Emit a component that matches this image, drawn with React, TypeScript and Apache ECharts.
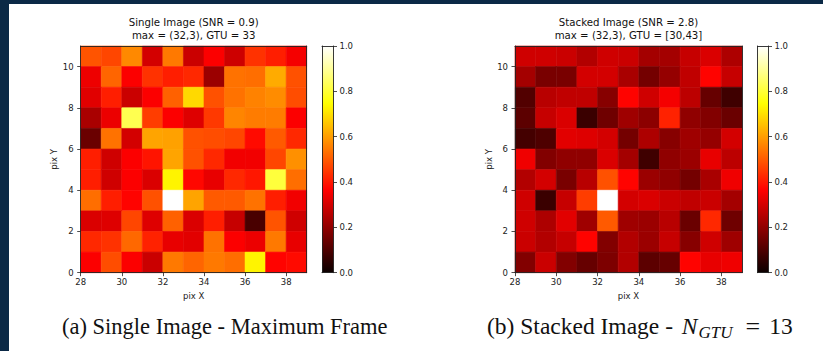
import React, { useEffect, useRef } from "react";
import * as echarts from "echarts";

// ---- data ----
const X_MIN = 28;
const X_MAX = 39;
const Y_MIN = 0;
const Y_MAX = 11;
const X_TICKS = [28, 30, 32, 34, 36, 38];
const Y_TICKS = [0, 2, 4, 6, 8, 10];
const CBAR_RANGE = [0, 1];

// rows listed from top (y = 10) to bottom (y = 0), columns x = 28..38
const SINGLE_ROWS = [
  [0.49, 0.47, 0.57, 0.3, 0.545, 0.286, 0.36, 0.29, 0.44, 0.41, 0.35],
  [0.34, 0.515, 0.36, 0.44, 0.41, 0.425, 0.215, 0.535, 0.53, 0.62, 0.485],
  [0.32, 0.41, 0.286, 0.36, 0.51, 0.69, 0.485, 0.535, 0.56, 0.575, 0.48],
  [0.236, 0.336, 0.826, 0.455, 0.36, 0.315, 0.45, 0.565, 0.55, 0.55, 0.36],
  [0.143, 0.535, 0.3, 0.61, 0.605, 0.485, 0.48, 0.47, 0.38, 0.5, 0.425],
  [0.41, 0.293, 0.36, 0.395, 0.61, 0.485, 0.425, 0.345, 0.345, 0.47, 0.58],
  [0.41, 0.293, 0.36, 0.31, 0.73, 0.375, 0.33, 0.425, 0.4, 0.806, 0.53],
  [0.53, 0.41, 0.37, 0.485, 1.0, 0.61, 0.5, 0.5, 0.535, 0.41, 0.345],
  [0.31, 0.315, 0.47, 0.315, 0.51, 0.31, 0.41, 0.28, 0.093, 0.49, 0.293],
  [0.425, 0.44, 0.52, 0.415, 0.33, 0.322, 0.535, 0.36, 0.336, 0.545, 0.33],
  [0.36, 0.48, 0.36, 0.286, 0.545, 0.515, 0.545, 0.53, 0.73, 0.37, 0.38],
];

const STACKED_ROWS = [
  [0.293, 0.293, 0.286, 0.25, 0.293, 0.286, 0.229, 0.229, 0.28, 0.31, 0.243],
  [0.229, 0.165, 0.165, 0.3, 0.3, 0.236, 0.157, 0.207, 0.272, 0.37, 0.28],
  [0.107, 0.258, 0.272, 0.272, 0.186, 0.37, 0.293, 0.35, 0.265, 0.136, 0.079],
  [0.122, 0.28, 0.31, 0.072, 0.15, 0.222, 0.193, 0.415, 0.2, 0.179, 0.143],
  [0.086, 0.1, 0.322, 0.315, 0.3, 0.157, 0.243, 0.186, 0.222, 0.207, 0.3],
  [0.343, 0.179, 0.2, 0.2, 0.31, 0.229, 0.079, 0.2, 0.215, 0.33, 0.265],
  [0.25, 0.3, 0.165, 0.258, 0.485, 0.37, 0.215, 0.2, 0.157, 0.236, 0.343],
  [0.293, 0.072, 0.28, 0.455, 1.0, 0.3, 0.31, 0.286, 0.272, 0.286, 0.229],
  [0.293, 0.243, 0.322, 0.222, 0.5, 0.222, 0.215, 0.258, 0.143, 0.425, 0.15],
  [0.286, 0.25, 0.28, 0.37, 0.179, 0.25, 0.215, 0.28, 0.186, 0.293, 0.222],
  [0.179, 0.286, 0.179, 0.136, 0.172, 0.25, 0.122, 0.136, 0.37, 0.33, 0.343],
];

const TITLE_A = "Single Image (SNR = 0.9)\nmax = (32,3), GTU = 33";
const TITLE_B = "Stacked Image (SNR = 2.8)\nmax = (32,3), GTU = [30,43]";

// ---- helpers ----
const clamp = (v: number) => Math.max(0, Math.min(1, v));
function hot(v: number): string {
  const r = clamp(0.0416 + (v / 0.365079) * (1 - 0.0416));
  const g = clamp((v - 0.365079) / (0.746032 - 0.365079));
  const b = clamp((v - 0.746032) / (1 - 0.746032));
  const h = (c: number) => Math.round(c * 255);
  return `rgb(${h(r)},${h(g)},${h(b)})`;
}
const HOT_COLORS: string[] = [];
for (let i = 0; i <= 100; i++) HOT_COLORS.push(hot(i / 100));
const HOT_STOPS = HOT_COLORS.map((c, i) => ({ offset: i / 100, color: c }));

function toData(rows: number[][]) {
  const out: number[][] = [];
  rows.forEach((row, ri) => {
    row.forEach((v, ci) => {
      out.push([X_MIN + ci, Y_MAX - 1 - ri, v]);
    });
  });
  return out;
}

const AX = "#222";
const FONT = "DejaVu Sans";
const SERIF = "Liberation Serif";

const cellRender = (params: any, api: any) => {
  const x = api.value(0);
  const y = api.value(1);
  const p0 = api.coord([x, y + 1]);
  const p1 = api.coord([x + 1, y]);
  const c = api.visual("color");
  return {
    type: "rect",
    shape: { x: p0[0], y: p0[1], width: p1[0] - p0[0], height: p1[1] - p0[1] },
    style: { fill: c, stroke: c, lineWidth: 0.6 },
  };
};

const cbarRender = (params: any, api: any) => {
  const p0 = api.coord([0, api.value(1)]);
  const p1 = api.coord([1, api.value(0)]);
  return {
    type: "rect",
    shape: { x: p0[0], y: p0[1], width: p1[0] - p0[0], height: p1[1] - p0[1] },
    style: { fill: new echarts.graphic.LinearGradient(0, 1, 0, 0, HOT_STOPS) },
  };
};

function mainX(gridIndex: number) {
  return {
    type: "value",
    gridIndex,
    min: X_MIN,
    max: X_MAX,
    z: 10,
    name: "pix X",
    nameLocation: "middle",
    nameGap: 16,
    nameTextStyle: { fontSize: 8.5, color: AX, fontFamily: FONT },
    axisLine: { show: true, onZero: false, lineStyle: { color: AX, width: 0.9 } },
    axisTick: { show: true, length: 3.5, customValues: X_TICKS, lineStyle: { color: AX, width: 0.8 } },
    axisLabel: { customValues: X_TICKS, fontSize: 8.5, color: AX, fontFamily: FONT, margin: 5 },
    splitLine: { show: false },
  };
}
function mainY(gridIndex: number) {
  return {
    type: "value",
    gridIndex,
    min: Y_MIN,
    max: Y_MAX,
    z: 10,
    name: "pix Y",
    nameLocation: "middle",
    nameGap: 21,
    nameTextStyle: { fontSize: 8.5, color: AX, fontFamily: FONT },
    axisLine: { show: true, onZero: false, lineStyle: { color: AX, width: 0.9 } },
    axisTick: { show: true, length: 3.5, customValues: Y_TICKS, lineStyle: { color: AX, width: 0.8 } },
    axisLabel: { customValues: Y_TICKS, fontSize: 8.5, color: AX, fontFamily: FONT, margin: 7 },
    splitLine: { show: false },
  };
}
function spine(gridIndex: number, position: string, min: number, max: number) {
  return {
    type: "value",
    gridIndex,
    position,
    min,
    max,
    z: 10,
    axisLine: { show: true, onZero: false, lineStyle: { color: AX, width: 0.9 } },
    axisTick: { show: false },
    axisLabel: { show: false },
    splitLine: { show: false },
  };
}
function cbarY(gridIndex: number) {
  return {
    type: "value",
    gridIndex,
    position: "right",
    min: CBAR_RANGE[0],
    max: CBAR_RANGE[1],
    interval: 0.2,
    z: 10,
    axisLine: { show: true, onZero: false, lineStyle: { color: AX, width: 0.9 } },
    axisTick: { show: true, length: 3.5, lineStyle: { color: AX, width: 0.8 } },
    axisLabel: {
      fontSize: 8.5,
      color: AX,
      fontFamily: FONT,
      margin: 6,
      formatter: (v: number) => v.toFixed(1),
    },
    splitLine: { show: false },
  };
}

export default function App() {
  const ref = useRef<HTMLDivElement>(null);
  useEffect(() => {
    if (!ref.current) return;
    const chart = echarts.init(ref.current, null, { renderer: "svg" });
    const plotH = 226.7;
    const titleStyle = {
      fill: "#111",
      fontFamily: FONT,
      fontSize: 10.2,
      lineHeight: 12.3,
      textAlign: "center",
      textVerticalAlign: "middle",
    };
    const option: any = {
      animation: false,
      backgroundColor: "#fff",
      grid: [
        { left: 80.7, top: 46, width: 226, height: plotH },
        { left: 515, top: 46, width: 227, height: plotH },
        { left: 322, top: 46, width: 11.5, height: plotH },
        { left: 757.5, top: 46, width: 11, height: plotH },
      ],
      xAxis: [
        mainX(0),
        spine(0, "top", X_MIN, X_MAX),
        mainX(1),
        spine(1, "top", X_MIN, X_MAX),
        spine(2, "bottom", 0, 1),
        spine(2, "top", 0, 1),
        spine(3, "bottom", 0, 1),
        spine(3, "top", 0, 1),
      ],
      yAxis: [
        mainY(0),
        spine(0, "right", Y_MIN, Y_MAX),
        mainY(1),
        spine(1, "right", Y_MIN, Y_MAX),
        cbarY(2),
        spine(2, "left", CBAR_RANGE[0], CBAR_RANGE[1]),
        cbarY(3),
        spine(3, "left", CBAR_RANGE[0], CBAR_RANGE[1]),
      ],
      visualMap: [
        { show: false, type: "continuous", seriesIndex: 0, dimension: 2, min: 0, max: 1, inRange: { color: HOT_COLORS } },
        { show: false, type: "continuous", seriesIndex: 1, dimension: 2, min: 0, max: 1, inRange: { color: HOT_COLORS } },
      ],
      series: [
        { type: "custom", xAxisIndex: 0, yAxisIndex: 0, renderItem: cellRender, data: toData(SINGLE_ROWS), silent: true },
        { type: "custom", xAxisIndex: 2, yAxisIndex: 2, renderItem: cellRender, data: toData(STACKED_ROWS), silent: true },
        { type: "custom", xAxisIndex: 4, yAxisIndex: 4, renderItem: cbarRender, data: [[CBAR_RANGE[0], CBAR_RANGE[1]]], silent: true },
        { type: "custom", xAxisIndex: 6, yAxisIndex: 6, renderItem: cbarRender, data: [[CBAR_RANGE[0], CBAR_RANGE[1]]], silent: true },
      ],
      graphic: [
        { type: "rect", shape: { x: 0, y: 0, width: 9, height: 351 }, style: { fill: "#0b2946" }, z: 100 },
        { type: "rect", shape: { x: 0, y: 0, width: 823, height: 4 }, style: { fill: "#0b2946" }, z: 100 },
        { type: "text", x: 193.7, y: 29, style: { ...titleStyle, text: TITLE_A } },
        { type: "text", x: 628.5, y: 29, style: { ...titleStyle, text: TITLE_B } },
        {
          type: "text",
          x: 62,
          y: 326,
          style: {
            text: "(a) Single Image - Maximum Frame",
            fill: "#111",
            fontFamily: SERIF,
            fontSize: 22.5,
            textAlign: "left",
            textVerticalAlign: "middle",
          },
        },
        {
          type: "text",
          x: 487,
          y: 326,
          style: {
            text: "{m|(b) Stacked Image - }{i|N}{s|GTU}{e|=}{m|13}",
            textAlign: "left",
            textVerticalAlign: "middle",
            rich: {
              m: { fontFamily: SERIF, fontSize: 23.5, lineHeight: 30, fill: "#111", verticalAlign: "middle" },
              i: { fontFamily: SERIF, fontSize: 23.5, fontStyle: "italic", lineHeight: 30, fill: "#111", verticalAlign: "middle", padding: [0, 1, 0, 3] },
              s: { fontFamily: SERIF, fontSize: 17, fontStyle: "italic", lineHeight: 14, fill: "#111", verticalAlign: "bottom", padding: [0, 4, 0, 0] },
              e: { fontFamily: SERIF, fontSize: 26, lineHeight: 30, fill: "#111", verticalAlign: "middle", padding: [0, 9, 0, 9] },
            },
          },
        },
      ],
    };
    chart.setOption(option);
    return () => chart.dispose();
  }, []);
  return (
    <div
      ref={ref}
      style={{ position: "fixed", left: 0, top: 0, width: 823, height: 351 }}
    />
  );
}
